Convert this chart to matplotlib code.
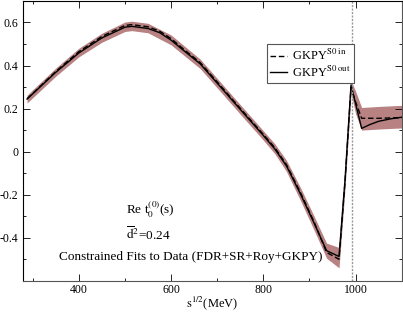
import numpy as np
import matplotlib
matplotlib.use('Agg')
import matplotlib.pyplot as plt
from matplotlib.ticker import MultipleLocator, FuncFormatter

plt.rcParams['font.family'] = ['Liberation Serif', 'DejaVu Serif']
plt.rcParams['mathtext.fontset'] = 'stix'
plt.rcParams['axes.unicode_minus'] = False

# energy (MeV) and Re t for the two fits
s_out = [288, 300, 350, 400, 450, 500, 515, 550, 575, 600, 630, 663, 700, 750, 800, 825, 850, 880,
         910, 937, 964, 977, 990, 1013, 1030, 1050, 1075, 1100]
t_out = [0.244, 0.268, 0.368, 0.458, 0.528, 0.578, 0.582, 0.572, 0.553, 0.518, 0.465, 0.408, 0.318,
         0.196, 0.075, 0.012, -0.066, -0.195, -0.332, -0.460, -0.487, -0.130, 0.310, 0.108, 0.125,
         0.141, 0.152, 0.160]
s_in = [288, 300, 350, 400, 450, 500, 515, 550, 575, 600, 630, 663, 700, 750, 800, 825, 850, 880,
        910, 937, 964, 977, 990, 1000, 1013, 1050, 1100]
t_in = [0.246, 0.270, 0.372, 0.464, 0.535, 0.586, 0.590, 0.580, 0.560, 0.525, 0.471, 0.414, 0.324,
        0.201, 0.080, 0.018, -0.060, -0.188, -0.327, -0.468, -0.500, -0.140, 0.300, 0.230, 0.155,
        0.155, 0.158]
# error band edges
s_band = [288, 300, 350, 400, 450, 500, 515, 550, 600, 663, 700, 750, 800, 825, 850, 880, 910, 937,
          964, 977, 990, 1000, 1013, 1050, 1100]
band_hi = [0.262, 0.287, 0.388, 0.480, 0.550, 0.602, 0.606, 0.596, 0.542, 0.430, 0.340, 0.218,
           0.097, 0.036, -0.040, -0.165, -0.300, -0.425, -0.445, -0.100, 0.330, 0.280, 0.205,
           0.210, 0.215]
band_lo = [0.226, 0.250, 0.350, 0.440, 0.508, 0.558, 0.562, 0.552, 0.496, 0.386, 0.296, 0.174,
           0.053, -0.010, -0.092, -0.225, -0.365, -0.495, -0.540, -0.170, 0.270, 0.175, 0.100,
           0.105, 0.110]

fig = plt.figure(figsize=(4.03, 3.12), dpi=100)
ax = fig.add_axes([0.058, 0.1, 0.939, 0.897])

ax.fill_between(s_band, band_lo, band_hi, color='#b98282', lw=0)
ax.plot(s_in, t_in, color='black', lw=1.0, ls=(0, (4, 2)), label=r'GKPY$^{\rm S0\ in}$')
ax.plot(s_out, t_out, color='black', lw=1.0, label=r'GKPY$^{\rm S0\ out}$')
ax.axvline(991.4, color='#999999', lw=1.0, ls=(0, (1.5, 1)))

ax.set_xlim(280, 1100)
ax.set_ylim(-0.6, 0.7)
ax.xaxis.set_major_locator(MultipleLocator(200))
ax.xaxis.set_minor_locator(MultipleLocator(100))
ax.yaxis.set_major_locator(MultipleLocator(0.2))
ax.yaxis.set_minor_locator(MultipleLocator(0.1))


def ylab(v, p):
    if abs(v) < 1e-9:
        return '0'
    if v < -0.55 or v > 0.65:
        return ''
    return '%g' % v


ax.yaxis.set_major_formatter(FuncFormatter(ylab))
ax.tick_params(which='both', direction='in', top=True, right=True, labelsize=8.5, width=0.6)
ax.tick_params(which='major', length=5)
ax.tick_params(which='minor', length=2.5)
ax.tick_params(axis='x', pad=2)
for sp in ax.spines.values():
    sp.set_linewidth(0.8)
ax.spines['bottom'].set_color('#555555')
ax.spines['right'].set_color('#555555')

ax.set_xlabel(r'$\rm s^{1/2}$(MeV)', fontsize=9, labelpad=-1)

ax.text(0.27, 0.255, r'Re t$_0^{(0)}$(s)', transform=ax.transAxes, fontsize=9.5, va='center')
ax.text(0.27, 0.165, r'$\overline{\rm d}^2$=0.24', transform=ax.transAxes, fontsize=9.5, va='center')
ax.text(0.094, 0.086, 'Constrained Fits to Data (FDR+SR+Roy+GKPY)', transform=ax.transAxes,
        fontsize=9.5, va='center')

leg = ax.legend(loc='upper left', bbox_to_anchor=(0.643, 0.845), borderaxespad=0, fontsize=9,
                fancybox=False, framealpha=1, edgecolor='#555555', handlelength=1.3,
                handletextpad=0.4, borderpad=0.3, labelspacing=0.1)
leg.get_frame().set_linewidth(0.8)

fig.savefig('out.png', dpi=100)
